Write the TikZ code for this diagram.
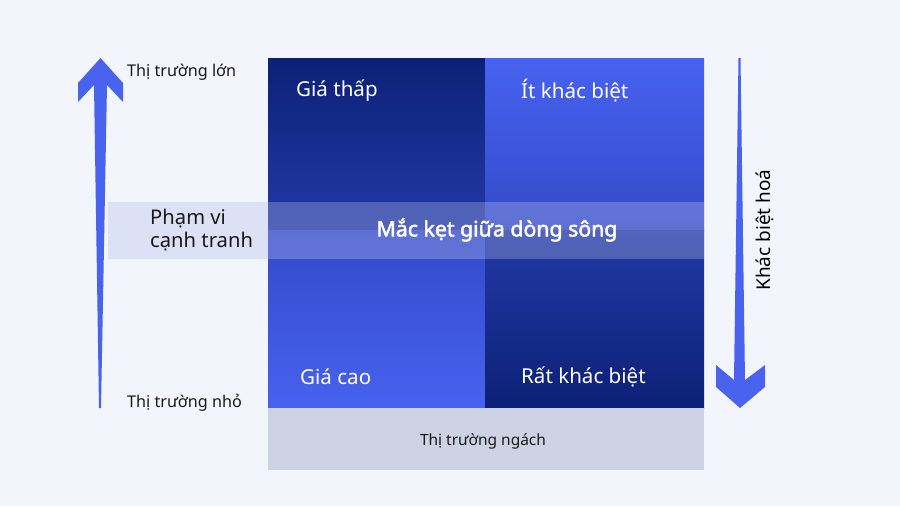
\documentclass[tikz,border=0pt]{standalone}
\usepackage{fontspec}
\setmainfont{Noto Sans}
\newfontfamily\heavyfont{Noto Sans}[FakeBold=2.2]
\usetikzlibrary{positioning}

\begin{document}
\begin{tikzpicture}[
    quadlabel/.style={text=white, anchor=west, font=\fontsize{11.7}{14}\selectfont},
    sidelabel/.style={text=black!90, anchor=west, font=\fontsize{9.2}{11}\selectfont}
  ]
        % Define some colors for convenience
        \definecolor{bgcolor}{HTML}{F2F5FC} % page color
        \definecolor{arrowcolor}{HTML}{4A63EE} % arrow color
        \definecolor{darkblue}{HTML}{0B2176} % dark quadrant end
        \definecolor{midblue}{HTML}{2239A8} % dark quadrant other end
        \definecolor{brightblue}{HTML}{4762EF} % bright quadrant end
        \definecolor{softblue}{HTML}{3349C8} % bright quadrant other end
        \definecolor{bandcolor}{HTML}{DDE1F5} % band on the page
        \definecolor{nichecolor}{HTML}{CDD3E4} % niche box color

        % Canvas
        \useasboundingbox (0,0) rectangle (18,10.12);
        \fill[bgcolor] (0,0) rectangle (18,10.12);

        % Quadrants
        \shade[top color=darkblue, bottom color=midblue] (5.36,5.52) rectangle (9.70,8.96); % low price
        \shade[top color=brightblue, bottom color=softblue] (9.70,5.52) rectangle (14.08,8.96); % little difference
        \shade[top color=softblue, bottom color=brightblue] (5.36,1.96) rectangle (9.70,5.52); % high price
        \shade[top color=midblue, bottom color=darkblue] (9.70,1.96) rectangle (14.08,5.52); % very different

        % Middle band
        \fill[bandcolor] (2.16,4.94) rectangle (5.36,6.08); % band left of the grid
        \fill[white, opacity=0.22] (5.36,4.94) rectangle (14.08,6.08); % band over the grid

        % Niche box
        \fill[nichecolor] (5.36,0.72) rectangle (14.08,1.96);

        % Arrows
        \fill[arrowcolor] (1.98,1.96) -- (2.02,1.96) -- (2.14,8.42) -- (2.46,8.08) -- (2.46,8.46)
            -- (2.01,8.96) -- (1.56,8.46) -- (1.56,8.08) -- (1.88,8.42) -- cycle; % market size
        \fill[arrowcolor] (14.77,8.96) -- (14.81,8.96) -- (14.90,2.52) -- (15.30,2.82) -- (15.30,2.38)
            -- (14.80,1.96) -- (14.32,2.38) -- (14.32,2.82) -- (14.68,2.52) -- cycle; % differentiation

        % Labels
        \node[sidelabel] (big) at (2.42,8.68) {Thị trường lớn}; % top of left arrow
        \node[sidelabel] (small) at (2.42,2.06) {Thị trường nhỏ}; % bottom of left arrow
        \node[quadlabel] (lowprice) at (5.80,8.30) {Giá thấp}; % top left
        \node[quadlabel] (lowdiff) at (10.30,8.30) {Ít khác biệt}; % top right
        \node[quadlabel] (highprice) at (5.88,2.58) {Giá cao}; % bottom left
        \node[quadlabel] (highdiff) at (10.30,2.58) {Rất khác biệt}; % bottom right
        \node[text=white, font=\fontsize{12.1}{14}\heavyfont] (stuck) at (9.94,5.52) {Mắc kẹt giữa dòng sông}; % band text
        \node[sidelabel, align=left, font=\fontsize{11.5}{13.5}\selectfont] (scope) at (2.88,5.52) {Phạm vi\\cạnh tranh}; % band label
        \node[text=black!90, font=\fontsize{8.8}{11}\selectfont] (niche) at (9.66,1.30) {Thị trường ngách}; % niche label
        \node[text=black, rotate=90, font=\fontsize{10.8}{13}\selectfont] (diff) at (15.30,5.52) {Khác biệt hoá}; % right arrow label
    \end{tikzpicture}
\end{document}
